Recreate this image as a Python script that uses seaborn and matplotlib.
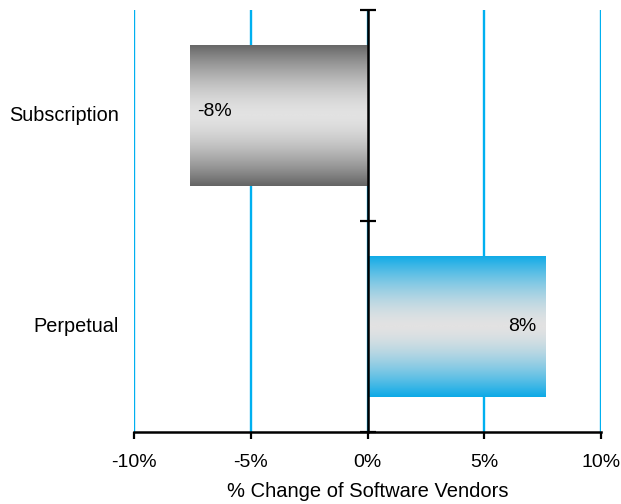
import numpy as np
import pandas as pd
import matplotlib
matplotlib.use("Agg")
import matplotlib.pyplot as plt
import seaborn as sns
from matplotlib.colors import LinearSegmentedColormap
from matplotlib.transforms import blended_transform_factory

# Data
categories = ["Subscription", "Perpetual"]
changes = [-7.6, 7.6]
x_ticks = [-10, -5, 0, 5, 10]
tick_labels = ["-10%", "-5%", "0%", "5%", "10%"]
edge_colors = ["#656565", "#0DAAE7"]
mid_color = "#E2E2E2"

sns.set_theme(style="white")
plt.rcParams["font.family"] = ["Liberation Sans", "DejaVu Sans"]

W, H = 621, 504
fig = plt.figure(figsize=(W / 100, H / 100), dpi=100)
fig.patch.set_facecolor("white")
ax = fig.add_axes([134 / W, 72 / H, 467 / W, 422 / H])
ax.set_facecolor("white")

df = pd.DataFrame({"category": categories, "change": changes})
sns.barplot(data=df, x="change", y="category", orient="h", width=0.67,
            color="white", ax=ax, zorder=2)

# Fill each bar with a horizontal-band gradient: dark edges, light centre
t = np.linspace(0, 1, 256)
edge_weight = (np.abs(2 * t - 1) ** 1.6)[:, None]
for patch, edge in zip(ax.patches, edge_colors):
    patch.set_facecolor("none")
    patch.set_edgecolor("none")
    cmap = LinearSegmentedColormap.from_list("band", [mid_color, edge])
    x0, y0 = patch.get_x(), patch.get_y()
    w, h = patch.get_width(), patch.get_height()
    img = ax.imshow(edge_weight, cmap=cmap, vmin=0, vmax=1, aspect="auto",
                    interpolation="bicubic",
                    extent=(x0, x0 + w, y0 + h, y0), zorder=2)
    img.set_clip_path(patch)

# Value labels inside the bars, at their outer end
for patch, val in zip(ax.patches, changes):
    yc = patch.get_y() + patch.get_height() / 2
    left = min(patch.get_x(), patch.get_x() + patch.get_width())
    right = max(patch.get_x(), patch.get_x() + patch.get_width())
    label = f"{val:.0f}%"
    if val < 0:
        ax.text(left + 0.3, yc - 0.02, label, ha="left", va="center",
                fontsize=14, color="black", zorder=4)
    else:
        ax.text(right - 0.35, yc, label, ha="right", va="center",
                fontsize=14, color="black", zorder=4)

ax.set_xlim(-10, 10)
ax.set_ylim(1.5, -0.5)

# Vertical grid in bright blue
ax.set_xticks(x_ticks)
ax.set_xticklabels(tick_labels)
ax.xaxis.grid(True, color="#00B0F0", linewidth=1.7, zorder=0)
ax.set_axisbelow(True)

# Zero line as the category axis, with ticks between categories
for s in ["top", "right"]:
    ax.spines[s].set_visible(False)
ax.spines["left"].set_position(("data", 0))
ax.spines["left"].set_color("black")
ax.spines["left"].set_linewidth(1.8)
ax.spines["left"].set_zorder(3)
ax.spines["bottom"].set_color("black")
ax.spines["bottom"].set_linewidth(1.8)
ax.set_yticks([-0.5, 0.5, 1.5])
ax.set_yticklabels([])
ax.tick_params(axis="y", direction="inout", length=11, width=1.6, color="black", left=True)
ax.tick_params(axis="x", direction="out", length=5, width=1.6, color="black",
               bottom=True, labelsize=14, pad=11, labelcolor="black")
ax.set_ylabel("")
ax.set_xlabel("% Change of Software Vendors", fontsize=14.5, labelpad=8,
              color="black")

# Category names to the left of the plotting area
trans = blended_transform_factory(ax.transAxes, ax.transData)
for i, name in enumerate(categories):
    ax.text(-0.033, i, name, transform=trans, ha="right", va="center",
            fontsize=14.3, color="black")

fig.savefig("out.png", dpi=100, facecolor="white")
